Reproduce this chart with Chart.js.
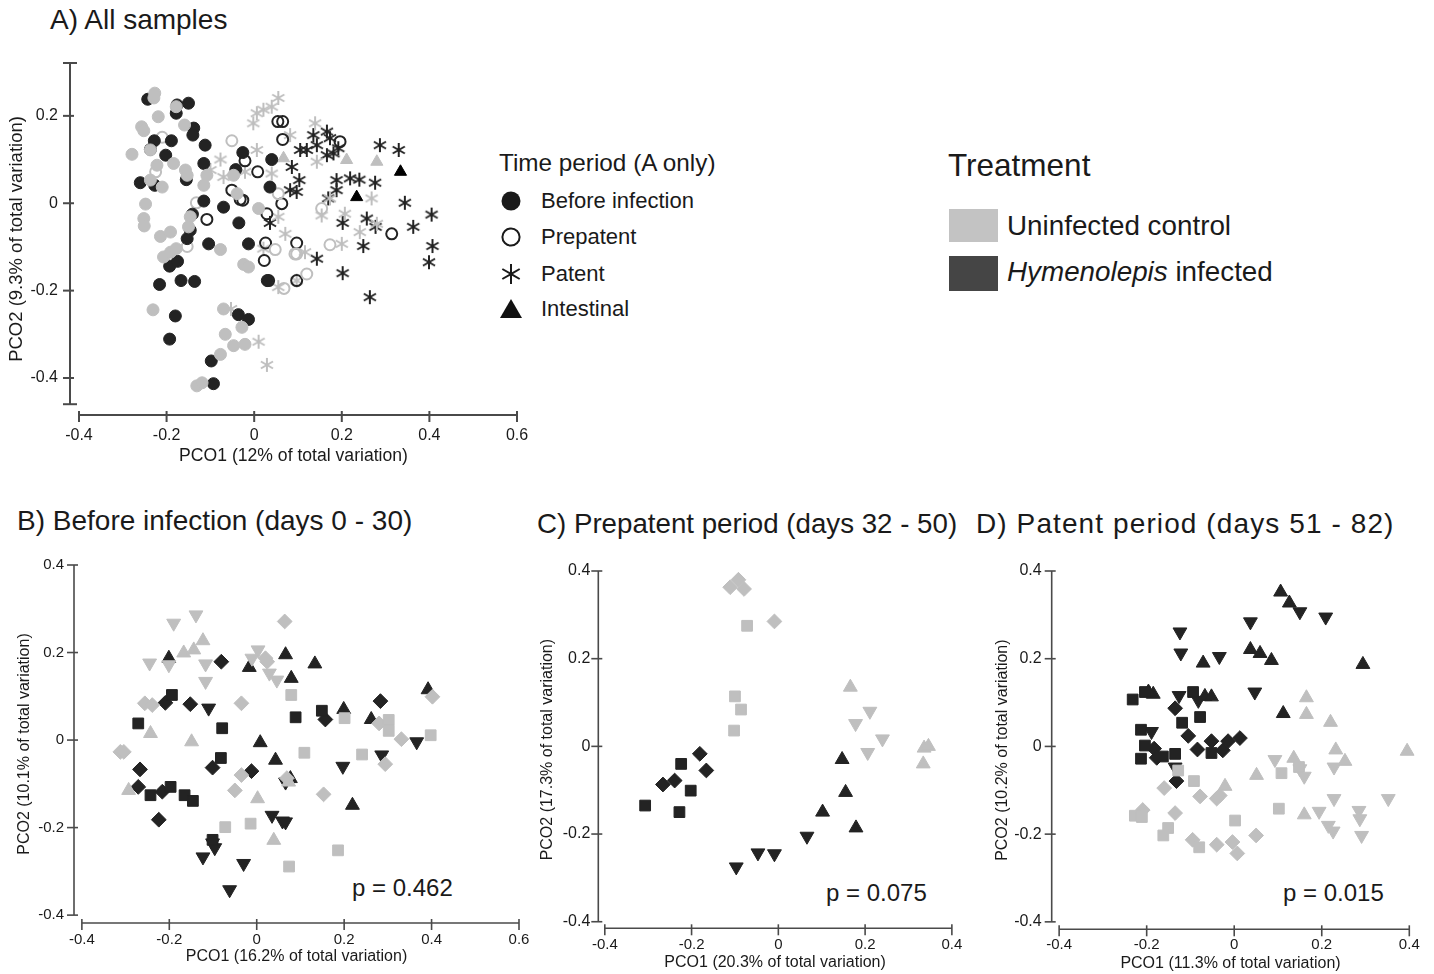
<!DOCTYPE html>
<html><head><meta charset="utf-8">
<script src="https://cdn.jsdelivr.net/npm/chart.js@4.4.1/dist/chart.umd.min.js"></script>
<style>
body{margin:0;background:#fff;}
#page{position:relative;width:1434px;height:974px;overflow:hidden;font-family:"Liberation Sans",Arial,sans-serif;color:#1a1a1a;background:#fff;}
canvas{position:absolute;}
.t{position:absolute;white-space:nowrap;}
.sym{position:absolute;}
.box{position:absolute;}
</style></head><body><div id="page">
<div class="t" style="left:50px;top:2px;font-size:28px;line-height:36px">A) All samples</div>
<div class="t" style="left:17px;top:503px;font-size:28px;line-height:36px">B) Before infection (days 0 - 30)</div>
<div class="t" style="left:537px;top:506px;font-size:27.7px;line-height:36px">C) Prepatent period (days 32 - 50)</div>
<div class="t" style="left:976px;top:506px;font-size:28px;line-height:36px;letter-spacing:1.1px">D) Patent period (days 51 - 82)</div>

<div class="t" style="left:499px;top:148px;font-size:24.3px;line-height:30px">Time period (A only)</div>
<svg class="sym" style="left:499px;top:189px" width="24" height="24"><circle cx="12" cy="12" r="9.5" fill="#1a1a1a"/></svg>
<svg class="sym" style="left:499px;top:225px" width="24" height="24"><circle cx="12" cy="12" r="8.6" fill="none" stroke="#1a1a1a" stroke-width="2"/></svg>
<svg class="sym" style="left:499px;top:262px" width="24" height="24"><g stroke="#1a1a1a" stroke-width="2"><line x1="12" y1="2" x2="12" y2="22"/><line x1="3.3" y1="7" x2="20.7" y2="17"/><line x1="3.3" y1="17" x2="20.7" y2="7"/></g></svg>
<svg class="sym" style="left:499px;top:297px" width="24" height="24"><polygon points="12,2 23,21 1,21" fill="#111"/></svg>
<div class="t" style="left:541px;top:187px;font-size:22px;line-height:28px">Before infection</div>
<div class="t" style="left:541px;top:223px;font-size:22px;line-height:28px">Prepatent</div>
<div class="t" style="left:541px;top:260px;font-size:22px;line-height:28px">Patent</div>
<div class="t" style="left:541px;top:295px;font-size:22px;line-height:28px">Intestinal</div>

<div class="t" style="left:948px;top:147px;font-size:31.5px;line-height:36px">Treatment</div>
<div class="box" style="left:949px;top:209px;width:49px;height:33px;background:#c3c3c3"></div>
<div class="box" style="left:949px;top:256px;width:49px;height:35px;background:#454545"></div>
<div class="t" style="left:1007px;top:209px;font-size:27.8px;line-height:34px">Uninfected control</div>
<div class="t" style="left:1007px;top:255px;font-size:27.8px;line-height:34px"><i>Hymenolepis</i> infected</div>

<div class="t" style="left:352px;top:873px;font-size:24px;line-height:30px">p = 0.462</div>
<div class="t" style="left:826px;top:878px;font-size:24px;line-height:30px">p = 0.075</div>
<div class="t" style="left:1283px;top:878px;font-size:24px;line-height:30px">p = 0.015</div>

<canvas id="cA" width="540" height="440" style="left:0px;top:40px"></canvas>
<canvas id="cB" width="540" height="429" style="left:0px;top:545px"></canvas>
<canvas id="cC" width="440" height="429" style="left:530px;top:545px"></canvas>
<canvas id="cD" width="449" height="429" style="left:985px;top:545px"></canvas>
</div>
<script>
// ---------- tick labels ----------
const xTicksA = [-0.4, -0.2, 0, 0.2, 0.4, 0.6];
const yTicksA = [-0.4, -0.2, 0, 0.2];
const xTicksB = [-0.4, -0.2, 0, 0.2, 0.4, 0.6];
const yTicksBCD = [-0.4, -0.2, 0, 0.2, 0.4];
const xTicksCD = [-0.4, -0.2, 0, 0.2, 0.4];

// ---------- Panel A: all samples (PCO1, PCO2) ----------
const aBeforeInf = [[-0.243,0.238],[-0.176,0.225],[-0.150,0.229],[-0.178,0.206],[-0.138,0.172],[-0.140,0.156],[-0.228,0.143],[-0.189,0.143],[-0.112,0.133],[-0.237,0.123],[-0.202,0.110],[-0.026,0.116],[0.040,0.100],[-0.115,0.091],[-0.260,0.047],[-0.227,0.041],[-0.155,0.054],[-0.042,0.077],[0.036,0.037],[-0.115,0.005],[-0.070,-0.009],[-0.141,-0.025],[-0.035,-0.045],[-0.146,-0.062],[-0.153,-0.081],[-0.104,-0.093],[-0.013,-0.093],[-0.193,-0.144],[-0.175,-0.133],[-0.216,-0.186],[-0.167,-0.177],[-0.136,-0.179],[-0.180,-0.258],[-0.193,-0.311],[-0.036,-0.255],[-0.013,-0.266],[-0.098,-0.361],[-0.093,-0.413],[0.030,-0.177]];
const aBeforeCtrl = [[-0.227,0.252],[-0.229,0.241],[-0.219,0.198],[-0.257,0.175],[-0.252,0.166],[-0.159,0.179],[-0.178,0.221],[-0.279,0.112],[-0.237,0.122],[-0.222,0.087],[-0.184,0.091],[-0.157,0.076],[-0.153,0.064],[-0.237,0.053],[-0.210,0.037],[-0.115,0.041],[-0.248,-0.002],[-0.252,-0.035],[-0.251,-0.052],[-0.214,-0.076],[-0.191,-0.066],[-0.146,-0.031],[-0.150,-0.054],[-0.207,-0.123],[-0.191,-0.112],[-0.178,-0.104],[-0.077,-0.106],[-0.024,-0.140],[-0.013,-0.146],[-0.108,0.064],[-0.047,0.064],[-0.039,0.022],[0.010,-0.012],[-0.231,-0.244],[-0.070,-0.242],[-0.028,-0.284],[-0.066,-0.300],[-0.047,-0.326],[-0.021,-0.323],[-0.077,-0.346],[-0.131,-0.418],[-0.119,-0.411]];
const aPrepInf = [[-0.021,0.097],[0.008,0.072],[-0.108,-0.037],[-0.026,0.007],[0.026,-0.091],[0.023,-0.131],[0.054,0.187],[0.065,0.187],[0.065,0.146],[0.029,-0.024],[0.097,-0.091],[-0.051,0.030],[0.196,0.141],[0.063,-0.001],[0.314,-0.070],[0.033,-0.177],[0.097,-0.177],[-0.032,0.009]];
const aPrepCtrl = [[-0.210,0.151],[-0.051,0.143],[-0.132,0.001],[-0.225,0.072],[0.048,-0.106],[0.068,-0.195],[0.097,-0.116],[0.055,0.022],[0.154,-0.012],[0.173,-0.095],[0.093,-0.116],[0.120,-0.162],[-0.153,-0.099]];
const aPatentCtrl = [[-0.077,0.100],[0.006,0.122],[0.006,0.206],[0.021,0.214],[-0.002,0.183],[0.040,0.221],[0.055,0.241],[-0.100,0.076],[-0.070,0.060],[-0.021,0.072],[0.040,0.068],[-0.053,-0.242],[0.010,-0.317],[0.029,-0.370],[0.055,-0.192],[0.071,-0.070],[0.021,-0.104],[0.139,0.183],[0.082,0.156],[0.143,0.095],[0.173,0.011],[0.268,0.011],[0.207,-0.024],[0.154,-0.028],[0.055,-0.031],[0.200,-0.093],[0.241,-0.066],[0.280,-0.047],[0.116,-0.112],[0.097,-0.177]];
const aPatentInf = [[0.135,0.156],[0.166,0.164],[0.173,0.149],[0.143,0.133],[0.120,0.122],[0.181,0.114],[0.166,0.110],[0.192,0.126],[0.105,0.122],[0.287,0.133],[0.330,0.122],[0.086,0.083],[0.103,0.053],[0.082,0.030],[0.097,0.026],[0.188,0.053],[0.219,0.057],[0.240,0.054],[0.188,0.030],[0.276,0.047],[0.169,0.011],[0.344,0.001],[0.405,-0.026],[0.363,-0.054],[0.257,-0.035],[0.202,-0.045],[0.277,-0.054],[0.249,-0.098],[0.407,-0.098],[0.399,-0.135],[0.143,-0.127],[0.202,-0.160],[0.264,-0.215],[0.036,-0.045]];
const aIntestCtrl = [[0.067,0.103],[0.211,0.099],[0.280,0.095]];
const aIntestInf = [[0.234,0.014],[0.334,0.072]];

// ---------- Panel B: before infection ----------
const bDownCtrl = [[-0.190,0.267],[-0.139,0.286],[-0.245,0.176],[-0.201,0.172],[-0.117,0.174],[-0.117,0.134],[0.003,0.206],[-0.011,0.187],[0.029,0.153],[0.046,0.137]];
const bUpCtrl = [[-0.167,0.199],[-0.144,0.206],[-0.123,0.227],[-0.243,0.015],[-0.149,-0.004],[-0.293,-0.115],[0.002,-0.134],[0.039,-0.229],[0.073,-0.096]];
const bDiamCtrl = [[-0.256,0.084],[-0.239,0.080],[-0.312,-0.027],[-0.304,-0.027],[-0.035,0.084],[-0.035,-0.080],[-0.050,-0.115],[0.064,0.271],[0.020,0.187],[0.024,0.179],[0.153,-0.124],[0.280,0.038],[0.331,0.002],[0.294,-0.055],[0.402,0.099],[0.069,-0.087]];
const bSqCtrl = [[-0.072,-0.199],[-0.014,-0.191],[0.079,0.103],[0.074,-0.289],[0.201,0.050],[0.109,-0.029],[0.186,-0.252],[0.241,-0.033],[0.302,0.046],[0.302,0.021],[0.398,0.011]];
const bSqInf = [[-0.271,0.038],[-0.194,0.103],[-0.079,0.027],[-0.082,-0.041],[-0.243,-0.126],[-0.197,-0.107],[-0.165,-0.126],[-0.146,-0.139],[-0.101,-0.228],[0.089,0.052],[0.149,0.067]];
const bDiamInf = [[-0.209,0.085],[-0.152,0.082],[-0.081,0.179],[-0.267,-0.067],[-0.271,-0.107],[-0.216,-0.118],[-0.224,-0.182],[-0.101,-0.063],[-0.012,-0.071],[0.157,0.047],[0.283,0.089]];
const bUpInf = [[-0.201,0.187],[-0.017,0.166],[0.066,0.195],[0.079,0.141],[0.008,-0.006],[0.043,-0.046],[0.133,0.174],[0.199,0.070],[0.262,0.047],[0.392,0.115],[0.219,-0.149],[0.077,-0.088]];
const bDownInf = [[-0.110,0.073],[-0.101,-0.235],[-0.096,-0.246],[-0.123,-0.267],[-0.030,-0.282],[-0.062,-0.342],[0.035,-0.172],[0.059,-0.185],[0.066,-0.187],[0.197,-0.060],[0.286,-0.034],[0.366,-0.004],[0.066,-0.096]];

// ---------- Panel C: prepatent period ----------
const cDiamCtrl = [[-0.111,0.363],[-0.092,0.380],[-0.079,0.359],[-0.009,0.285]];
const cSqCtrl = [[-0.072,0.275],[-0.100,0.114],[-0.086,0.084],[-0.102,0.036]];
const cUpCtrl = [[0.166,0.135],[0.336,-0.004],[0.346,0.000],[0.334,-0.040]];
const cDownCtrl = [[0.211,0.080],[0.178,0.052],[0.240,0.017],[0.206,-0.014]];
const cSqInf = [[-0.224,-0.040],[-0.202,-0.101],[-0.307,-0.135],[-0.228,-0.150]];
const cDiamInf = [[-0.181,-0.017],[-0.166,-0.055],[-0.239,-0.078],[-0.266,-0.087]];
const cUpInf = [[0.147,-0.030],[0.155,-0.105],[0.102,-0.150],[0.179,-0.186]];
const cDownInf = [[0.066,-0.205],[-0.047,-0.243],[-0.009,-0.245],[-0.097,-0.275]];

// ---------- Panel D: patent period ----------
const dDownInf = [[-0.124,0.261],[-0.122,0.213],[-0.034,0.205],[-0.126,0.116],[-0.189,0.034],[-0.082,0.105],[-0.135,-0.047],[0.150,0.307],[0.209,0.295],[0.037,0.284],[0.047,0.124]];
const dUpInf = [[-0.071,0.190],[-0.185,0.119],[-0.196,0.124],[-0.067,0.114],[-0.052,0.113],[0.106,0.352],[0.126,0.327],[0.037,0.221],[0.059,0.212],[0.085,0.196],[0.294,0.187],[0.112,0.075]];
const dSqInf = [[-0.232,0.107],[-0.204,0.124],[-0.094,0.124],[-0.078,0.067],[-0.119,0.054],[-0.213,0.038],[-0.204,0.002],[-0.213,-0.028],[-0.163,-0.023],[-0.135,-0.017],[-0.052,-0.015]];
const dDiamInf = [[-0.135,0.087],[-0.105,0.024],[-0.084,-0.007],[-0.052,0.012],[-0.026,-0.009],[-0.014,0.012],[0.013,0.019],[-0.183,-0.005],[-0.177,-0.026],[-0.132,-0.079]];
const dSqCtrl = [[-0.128,-0.055],[-0.092,-0.079],[-0.227,-0.158],[-0.211,-0.161],[-0.151,-0.186],[-0.162,-0.203],[-0.080,-0.230],[0.002,-0.169],[0.108,-0.061],[0.148,-0.047],[0.102,-0.142]];
const dDiamCtrl = [[-0.160,-0.095],[-0.078,-0.114],[-0.040,-0.119],[-0.033,-0.112],[-0.209,-0.145],[-0.135,-0.152],[-0.095,-0.213],[-0.040,-0.224],[-0.004,-0.218],[0.007,-0.244],[0.050,-0.203]];
const dUpCtrl = [[-0.021,-0.091],[0.165,0.111],[0.165,0.073],[0.220,0.055],[0.232,-0.008],[0.253,-0.034],[0.395,-0.011],[0.136,-0.027],[0.051,-0.066],[0.160,-0.156]];
const dDownCtrl = [[0.093,-0.030],[0.150,-0.051],[0.160,-0.068],[0.228,-0.047],[0.228,-0.119],[0.352,-0.119],[0.194,-0.148],[0.215,-0.180],[0.226,-0.193],[0.285,-0.146],[0.287,-0.165],[0.291,-0.203]];

// ---------- styling ----------
const GRAY = '#bfbfbf';
const DARK = '#232323';
Chart.defaults.font.family = '"Liberation Sans", Arial, sans-serif';
Chart.defaults.color = '#1a1a1a';

function asterisk(color) {
  const c = document.createElement('canvas');
  c.width = 16; c.height = 16;
  const g = c.getContext('2d');
  g.strokeStyle = color; g.lineWidth = 2;
  const r = 7;
  for (let k = 0; k < 3; k++) {
    const a = Math.PI / 2 + k * Math.PI / 3;
    g.beginPath();
    g.moveTo(8 + r * Math.cos(a), 8 + r * Math.sin(a));
    g.lineTo(8 - r * Math.cos(a), 8 - r * Math.sin(a));
    g.stroke();
  }
  return c;
}
const astGray = asterisk(GRAY);
const astDark = asterisk(DARK);

function pts(arr) { return arr.map(p => ({x: p[0], y: p[1]})); }
function ds(arr, style, color, extra) {
  return Object.assign({
    data: pts(arr), pointStyle: style, backgroundColor: color, borderColor: color,
    pointRadius: 6, borderWidth: 1, clip: false, rotation: 0
  }, extra || {});
}
function shapeSets(sqC, diC, upC, dnC, sqI, diI, upI, dnI) {
  return [
    ds(sqC, 'rect', GRAY, {pointRadius: 7.6}),
    ds(diC, 'rectRot', GRAY, {pointRadius: 7.4}),
    ds(upC, 'triangle', GRAY, {pointRadius: 8}),
    ds(dnC, 'triangle', GRAY, {pointRadius: 8, rotation: 180}),
    ds(sqI, 'rect', DARK, {pointRadius: 7.6}),
    ds(diI, 'rectRot', DARK, {pointRadius: 7.4}),
    ds(upI, 'triangle', DARK, {pointRadius: 8}),
    ds(dnI, 'triangle', DARK, {pointRadius: 8, rotation: 180})
  ];
}

// range-frame axes drawn through the chart's own scales
const rangeFrame = {
  id: 'rangeFrame',
  beforeDatasetsDraw(chart, args, o) {
    if (!o || !o.xRange) return;
    const ctx = chart.ctx, xs = chart.scales.x, ys = chart.scales.y;
    const ax = chart.chartArea.left, ay = chart.chartArea.bottom;
    ctx.save();
    ctx.strokeStyle = o.color; ctx.lineWidth = o.width; ctx.lineCap = 'butt';
    const line = (x1, y1, x2, y2) => { ctx.beginPath(); ctx.moveTo(x1, y1); ctx.lineTo(x2, y2); ctx.stroke(); };
    const yTop = ys.getPixelForValue(o.yRange[1]), yBot = ys.getPixelForValue(o.yRange[0]);
    line(ax, yTop, ax, yBot);
    o.yTicks.forEach(v => { const p = ys.getPixelForValue(v); line(ax - o.out, p, ax + o.inn, p); });
    if (o.caps) { line(ax - o.caps, yTop, ax + o.caps, yTop); line(ax - o.caps, yBot, ax + o.caps, yBot); }
    const xL = xs.getPixelForValue(o.xRange[0]), xR = xs.getPixelForValue(o.xRange[1]);
    line(xL, ay, xR, ay);
    o.xTicks.forEach(v => { const p = xs.getPixelForValue(v); line(p, ay - o.inn, p, ay + o.out); });
    ctx.restore();
  }
};
Chart.register(rangeFrame);

function panel(id, o) {
  return new Chart(document.getElementById(id), {
    type: 'scatter',
    data: {datasets: o.datasets},
    options: {
      responsive: false, animation: false, devicePixelRatio: 1, events: [],
      layout: {padding: o.pad},
      plugins: {legend: {display: false}, tooltip: {enabled: false},
        rangeFrame: {xRange: o.xRange, yRange: o.yRange, xTicks: o.xTicks, yTicks: o.yTicks,
          color: '#4a4a4a', width: o.lw, out: 7, inn: 4, caps: o.caps || 0}},
      scales: {
        x: {type: 'linear', position: 'bottom', min: o.xMin, max: o.xMax,
          afterBuildTicks: s => { s.ticks = o.xTicks.map(v => ({value: v})); },
          afterFit: s => { s.height = o.hx; },
          grid: {display: false, drawTicks: false}, border: {display: false},
          ticks: {autoSkip: false, maxRotation: 0, padding: o.xPad, font: {size: o.tickSize}, color: '#1a1a1a', callback: v => String(v)},
          title: {display: true, text: o.xTitle, font: {size: o.titleSize}, color: '#1a1a1a', padding: 0}},
        y: {type: 'linear', position: 'left', min: o.yMin, max: o.yMax,
          afterBuildTicks: s => { s.ticks = o.yTicks.map(v => ({value: v})); },
          afterFit: s => { s.width = o.wy; },
          grid: {display: false, drawTicks: false}, border: {display: false},
          ticks: {autoSkip: false, padding: o.yPad, font: {size: o.yTickSize || o.tickSize}, color: '#1a1a1a', callback: v => String(v)},
          title: {display: true, text: o.yTitle, font: {size: o.yTitleSize || o.titleSize}, color: '#1a1a1a', padding: 0}}
      }
    }
  });
}

panel('cA', {
  datasets: [
    ds(aBeforeCtrl, 'circle', GRAY, {pointRadius: 6}),
    ds(aBeforeInf, 'circle', DARK, {pointRadius: 6}),
    ds(aPrepCtrl, 'circle', GRAY, {pointRadius: 5.5, borderWidth: 2, backgroundColor: 'rgba(0,0,0,0)'}),
    ds(aPrepInf, 'circle', DARK, {pointRadius: 5.5, borderWidth: 2, backgroundColor: 'rgba(0,0,0,0)'}),
    ds(aPatentCtrl, astGray, GRAY),
    ds(aPatentInf, astDark, DARK),
    ds(aIntestCtrl, 'triangle', GRAY, {pointRadius: 7}),
    ds(aIntestInf, 'triangle', '#000', {pointRadius: 7})
  ],
  pad: {left: 5.8, top: 23, right: 23, bottom: 13}, wy: 64.2, hx: 52,
  xMin: -0.4205, xMax: 0.6, yMin: -0.4847, yMax: 0.321,
  xTicks: xTicksA, yTicks: yTicksA, xRange: [-0.4, 0.6], yRange: [-0.46, 0.321], caps: 7, lw: 2,
  tickSize: 16, titleSize: 17.6, yTitleSize: 18.5, xPad: 11.4, yPad: 12,
  xTitle: 'PCO1 (12% of total variation)', yTitle: 'PCO2 (9.3% of total variation)'
});

panel('cB', {
  datasets: shapeSets(bSqCtrl, bDiamCtrl, bUpCtrl, bDownCtrl, bSqInf, bDiamInf, bUpInf, bDownInf),
  pad: {left: 15.4, top: 20, right: 21, bottom: 7.4}, wy: 58.6, hx: 43.6,
  xMin: -0.418, xMax: 0.6, yMin: -0.418, yMax: 0.4,
  xTicks: xTicksB, yTicks: yTicksBCD, xRange: [-0.4, 0.6], yRange: [-0.4, 0.4], lw: 1.6,
  tickSize: 15, titleSize: 16, xPad: 8, yPad: 10,
  xTitle: 'PCO1 (16.2% of total variation)', yTitle: 'PCO2 (10.1% of total variation)'
});

panel('cC', {
  datasets: shapeSets(cSqCtrl, cDiamCtrl, cUpCtrl, cDownCtrl, cSqInf, cDiamInf, cUpInf, cDownInf),
  pad: {left: 8.4, top: 26, right: 13.3, bottom: 1.4}, wy: 59.9, hx: 44.3,
  xMin: -0.415, xMax: 0.4, yMin: -0.415, yMax: 0.4,
  xTicks: xTicksCD, yTicks: yTicksBCD, xRange: [-0.4, 0.4], yRange: [-0.4, 0.4], lw: 1.6,
  tickSize: 15, yTickSize: 16, titleSize: 16, xPad: 7.7, yPad: 8,
  xTitle: 'PCO1 (20.3% of total variation)', yTitle: 'PCO2 (17.3% of total variation)'
});

panel('cD', {
  datasets: shapeSets(dSqCtrl, dDiamCtrl, dUpCtrl, dDownCtrl, dSqInf, dDiamInf, dUpInf, dDownInf),
  pad: {left: 8.4, top: 26, right: 24.7, bottom: 1.1}, wy: 58.3, hx: 43.6,
  xMin: -0.417, xMax: 0.4, yMin: -0.417, yMax: 0.4,
  xTicks: xTicksCD, yTicks: yTicksBCD, xRange: [-0.4, 0.4], yRange: [-0.4, 0.4], lw: 1.6,
  tickSize: 15, yTickSize: 16, titleSize: 16, xPad: 6.7, yPad: 10,
  xTitle: 'PCO1 (11.3% of total variation)', yTitle: 'PCO2 (10.2% of total variation)'
});
</script>
</body></html>
